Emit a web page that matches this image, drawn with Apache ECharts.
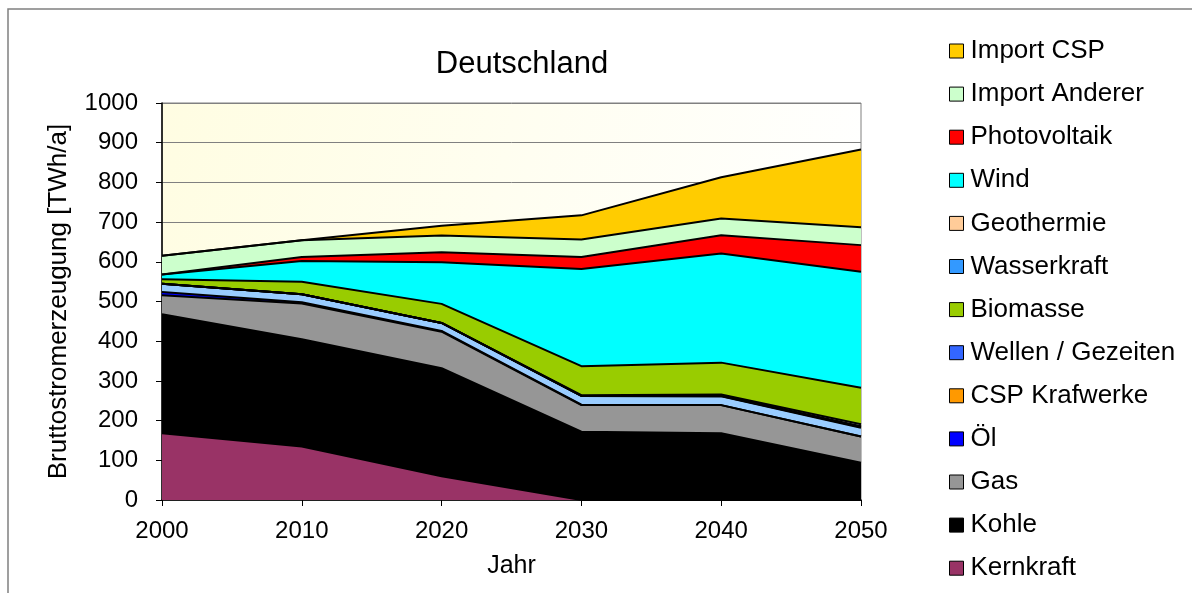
<!DOCTYPE html>
<html>
<head>
<meta charset="utf-8">
<script src="https://cdn.jsdelivr.net/npm/echarts@6/dist/echarts.min.js"></script>
<style>
  html, body { margin: 0; padding: 0; background: #fff; }
  #chart { width: 1192px; height: 593px; }
</style>
</head>
<body>
<div id="chart"></div>
<script>
// Jahre
const years = ['2000', '2010', '2020', '2030', '2040', '2050'];

// Bruttostromerzeugung je Energieträger [TWh/a]
const kernkraft      = [168, 135, 60, 0, 0, 0];
const kohle          = [300, 270, 272, 172, 168, 94];
const gas            = [48, 90, 92, 67, 71, 66];
const oel            = [8, 3, 2, 1, 0, 0];
const wasserkraft    = [21, 20, 20, 22, 22, 22];
const wellen         = [0, 0, 0, 0, 1, 2];
const cspKraftwerke  = [0, 0, 0, 0, 1, 2];
const geothermie     = [0, 0, 0, 2, 3, 5];
const biomasse       = [11, 32, 48, 73, 80, 92];
const wind           = [12, 52, 105, 245, 275, 292];
const photovoltaik   = [0, 10, 25, 30, 46, 67];
const importAnderer  = [47, 42, 42, 44, 42, 45];
const importCSP      = [0, 0, 25, 61, 104, 196];

const yTicks = [0, 100, 200, 300, 400, 500, 600, 700, 800, 900, 1000];

// Reihenfolge im Stapel (unten -> oben)
const stackSeries = [
  {name: 'Kernkraft', data: kernkraft, color: '#993366'},
  {name: 'Kohle', data: kohle, color: '#000000'},
  {name: 'Gas', data: gas, color: '#969696'},
  {name: 'Öl', data: oel, color: '#0000FF'},
  {name: 'Wasserkraft', data: wasserkraft, color: '#3399FF', area: '#99CCFF'},
  {name: 'Wellen / Gezeiten', data: wellen, color: '#3366FF'},
  {name: 'CSP Krafwerke', data: cspKraftwerke, color: '#FF9900'},
  {name: 'Geothermie', data: geothermie, color: '#FFCC99'},
  {name: 'Biomasse', data: biomasse, color: '#99CC00'},
  {name: 'Wind', data: wind, color: '#00FFFF'},
  {name: 'Photovoltaik', data: photovoltaik, color: '#FF0000'},
  {name: 'Import Anderer', data: importAnderer, color: '#CCFFCC'},
  {name: 'Import CSP', data: importCSP, color: '#FFCC00'}
];

const legendOrder = ['Import CSP', 'Import Anderer', 'Photovoltaik', 'Wind', 'Geothermie',
  'Wasserkraft', 'Biomasse', 'Wellen / Gezeiten', 'CSP Krafwerke', 'Öl', 'Gas', 'Kohle', 'Kernkraft'];

const font = 'Liberation Sans, Arial, sans-serif';

const chart = echarts.init(document.getElementById('chart'));

chart.setOption({
  animation: false,
  graphic: [{
    type: 'rect',
    shape: {x: 8, y: 9, width: 1200, height: 600},
    style: {fill: 'none', stroke: '#808080', lineWidth: 1.5},
    silent: true
  }],
  title: {
    text: 'Deutschland',
    left: 517,
    top: 44,
    textAlign: 'center',
    textStyle: {fontFamily: font, fontSize: 31, fontWeight: 'normal', color: '#000'}
  },
  legend: {
    orient: 'vertical',
    left: 944,
    top: 33,
    itemWidth: 14,
    itemHeight: 14,
    itemGap: 17.1,
    icon: 'rect',
    data: legendOrder,
    itemStyle: {borderColor: '#000', borderWidth: 1},
    textStyle: {fontFamily: font, fontSize: 26, color: '#000', lineHeight: 26, padding: [0, 0, 0, 2]}
  },
  grid: {
    left: 162,
    top: 103,
    width: 699,
    height: 397,
    show: true,
    borderColor: '#808080',
    borderWidth: 1,
    backgroundColor: new echarts.graphic.LinearGradient(0, 0, 1, 0.4, [
      {offset: 0, color: '#FFFDE2'},
      {offset: 1, color: '#FFFFFF'}
    ])
  },
  xAxis: {
    type: 'category',
    data: years,
    boundaryGap: false,
    name: 'Jahr',
    nameLocation: 'middle',
    nameGap: 54,
    nameTextStyle: {fontFamily: font, fontSize: 25, color: '#000'},
    axisLine: {lineStyle: {color: '#000', width: 1.5}},
    axisTick: {show: true, length: 6, lineStyle: {color: '#000'}},
    axisLabel: {fontFamily: font, fontSize: 24, color: '#000', margin: 19},
    splitLine: {show: false}
  },
  yAxis: {
    type: 'value',
    min: yTicks[0],
    max: yTicks[yTicks.length - 1],
    interval: 100,
    name: 'Bruttostromerzeugung [TWh/a]',
    nameLocation: 'middle',
    nameRotate: 90,
    nameGap: 90,
    nameTextStyle: {fontFamily: font, fontSize: 26, color: '#000'},
    axisLine: {show: true, lineStyle: {color: '#000', width: 1.5}},
    axisTick: {show: true, length: 6, lineStyle: {color: '#000'}},
    axisLabel: {fontFamily: font, fontSize: 24, color: '#000', margin: 24, formatter: v => String(v)},
    splitLine: {lineStyle: {color: '#808080', width: 1}}
  },
  series: stackSeries.map(s => ({
    name: s.name,
    type: 'line',
    stack: 'total',
    data: s.data,
    symbol: 'none',
    itemStyle: {color: s.color},
    lineStyle: {color: '#000', width: 2},
    areaStyle: {color: s.area || s.color, opacity: 1}
  }))
});
</script>
</body>
</html>
